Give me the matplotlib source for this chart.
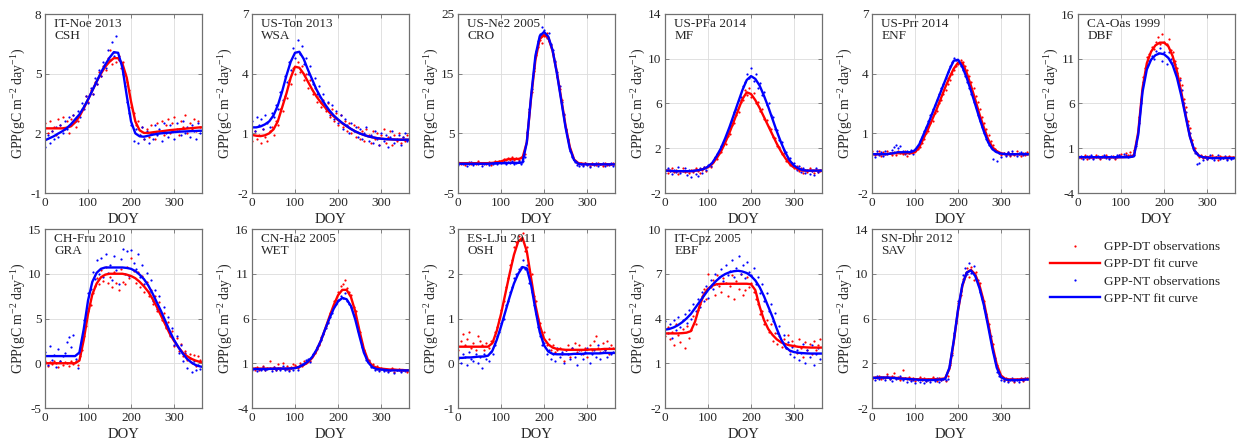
import matplotlib
matplotlib.use("Agg")
import matplotlib.pyplot as plt
from matplotlib.lines import Line2D

plt.rcParams['font.family'] = ['Liberation Serif', 'DejaVu Serif']
plt.rcParams['mathtext.fontset'] = 'custom'
plt.rcParams['mathtext.rm'] = 'Liberation Serif'
plt.rcParams['mathtext.it'] = 'Liberation Serif:italic'
plt.rcParams['axes.unicode_minus'] = False

# ---------------- data ----------------
obs_doy = list(range(1, 366, 5))                 # observation days (73)
fit_doy = list(range(0, 361, 10)) + [365]        # fit-curve days (38)

sites = ["IT-Noe 2013", "US-Ton 2013", "US-Ne2 2005", "US-PFa 2014", "US-Prr 2014", "CA-Oas 1999",
         "CH-Fru 2010", "CN-Ha2 2005", "ES-LJu 2011", "IT-Cpz 2005", "SN-Dhr 2012"]
pfts = ["CSH", "WSA", "CRO", "MF", "ENF", "DBF", "GRA", "WET", "OSH", "EBF", "SAV"]
ylims = [(-1, 8), (-2, 7), (-5, 25), (-2, 14), (-2, 7), (-4, 16),
         (-5, 15), (-4, 16), (-1, 3), (-2, 10), (-2, 14)]
yticks = [[-1, 2, 5, 8], [-2, 1, 4, 7], [-5, 5, 15, 25], [-2, 2, 6, 10, 14], [-2, 1, 4, 7],
          [-4, 1, 6, 11, 16], [-5, 0, 5, 10, 15], [-4, 1, 6, 11, 16], [-1, 0, 1, 2, 3],
          [-2, 1, 4, 7, 10], [-2, 2, 6, 10, 14]]
xticks = [0, 100, 200, 300]
legend_labels = ["GPP-DT observations", "GPP-DT fit curve", "GPP-NT observations", "GPP-NT fit curve"]

# IT-Noe 2013
noe_dt_obs = [2.5, 2.0, 2.6, 2.1, 2.3, 1.9, 2.7, 2.4, 2.8, 2.2, 2.6, 2.0, 2.7, 2.9, 2.3, 2.6, 3.0, 3.2, 3.4, 3.9,
              3.6, 4.2, 4.0, 4.6, 4.5, 5.1, 4.9, 5.4, 5.2, 5.8, 6.2, 5.5, 6.1, 5.6, 5.9, 5.3, 5.6, 5.0, 4.6, 4.2,
              3.3, 3.0, 2.4, 2.6, 1.9, 2.3, 1.7, 2.2, 1.8, 2.4, 2.0, 1.7, 2.5, 2.1, 2.6, 1.9, 2.4, 2.7, 2.0, 2.5,
              2.8, 2.2, 1.9, 2.6, 2.3, 2.9, 2.0, 2.5, 2.2, 2.7, 2.1, 2.6, 2.3]
noe_nt_obs = [1.3, 1.9, 1.5, 2.1, 1.7, 2.3, 1.8, 2.4, 2.0, 2.6, 2.2, 2.8, 2.4, 2.9, 2.6, 3.1, 2.8, 3.5, 3.2, 3.9,
              3.5, 4.3, 4.0, 4.8, 4.5, 5.2, 4.9, 5.6, 5.3, 6.2, 5.7, 6.6, 5.9, 6.9, 5.7, 5.6, 5.0, 4.4, 3.6, 3.0,
              2.4, 1.6, 2.2, 1.5, 1.9, 2.3, 1.7, 2.1, 1.5, 2.0, 1.7, 2.4, 1.9, 2.2, 1.6, 2.5, 2.0, 1.8, 2.4, 2.1,
              1.7, 2.5, 2.2, 1.9, 2.6, 2.0, 2.3, 1.8, 2.4, 2.1, 1.7, 2.5, 2.0]
noe_dt_fit = [2.25, 2.25, 2.25, 2.25, 2.25, 2.28, 2.35, 2.55, 2.85, 3.25, 3.7, 4.15, 4.6, 5.0, 5.35, 5.6, 5.78, 5.78,
              5.5, 4.8, 3.6, 2.6, 2.15, 2.02, 2.02, 2.05, 2.08, 2.1, 2.13, 2.16, 2.18, 2.2, 2.22, 2.24, 2.26, 2.28,
              2.3, 2.3]
noe_nt_fit = [1.65, 1.75, 1.85, 1.98, 2.1, 2.25, 2.45, 2.7, 2.95, 3.3, 3.7, 4.15, 4.6, 5.05, 5.45, 5.8, 6.08, 6.05,
              5.3, 3.9, 2.6, 2.0, 1.85, 1.83, 1.88, 1.93, 1.97, 2.0, 2.02, 2.04, 2.06, 2.08, 2.09, 2.1, 2.11, 2.12,
              2.13, 2.13]

# US-Ton 2013
ton_dt_obs = [0.6, 1.1, 0.7, 0.9, 0.5, 1.2, 0.8, 0.6, 1.1, 1.3, 0.9, 1.6, 1.4, 2.2, 2.1, 2.9, 2.8, 3.7, 3.5, 4.3,
              4.0, 4.6, 4.1, 4.4, 3.7, 4.0, 3.3, 3.7, 3.0, 3.3, 2.6, 2.9, 2.3, 2.7, 2.1, 2.5, 1.8, 2.2, 1.6, 2.0,
              1.4, 1.9, 1.3, 1.6, 1.1, 1.5, 1.0, 1.4, 0.8, 1.3, 0.7, 1.1, 0.6, 1.2, 0.9, 0.5, 1.1, 0.7, 1.0, 0.4,
              0.9, 1.2, 0.5, 0.8, 1.1, 0.4, 0.9, 0.6, 1.0, 0.5, 0.8, 0.6, 0.9]
ton_nt_obs = [1.6, 1.1, 1.8, 1.4, 1.7, 1.2, 1.9, 1.5, 1.3, 2.0, 1.8, 2.4, 2.2, 3.1, 2.7, 3.9, 3.6, 4.6, 4.2, 5.3,
              4.8, 5.7, 5.0, 5.4, 4.5, 4.8, 4.0, 4.4, 3.5, 3.8, 3.0, 3.4, 2.6, 3.0, 2.2, 2.6, 1.9, 2.4, 1.7, 2.1,
              1.5, 1.9, 1.2, 1.7, 1.4, 1.0, 1.5, 1.1, 1.3, 0.8, 1.2, 0.7, 1.0, 1.3, 0.6, 0.9, 0.5, 1.1, 0.7, 0.4,
              1.0, 0.6, 0.9, 0.3, 0.8, 1.1, 0.5, 0.7, 0.9, 0.4, 0.8, 1.0, 0.6]
ton_dt_fit = [0.92, 0.88, 0.86, 0.9, 1.0, 1.2, 1.6, 2.3, 3.0, 3.8, 4.35, 4.3, 4.0, 3.6, 3.2, 2.85, 2.55, 2.3, 2.05,
              1.85, 1.67, 1.5, 1.36, 1.22, 1.1, 1.0, 0.92, 0.85, 0.8, 0.76, 0.73, 0.71, 0.7, 0.69, 0.68, 0.68, 0.68,
              0.68]
ton_nt_fit = [1.3, 1.3, 1.35, 1.45, 1.6, 1.9, 2.4, 3.1, 3.9, 4.6, 5.05, 5.1, 4.75, 4.2, 3.7, 3.2, 2.8, 2.45, 2.15,
              1.9, 1.7, 1.52, 1.37, 1.22, 1.1, 1.0, 0.92, 0.85, 0.8, 0.76, 0.73, 0.71, 0.7, 0.69, 0.68, 0.68, 0.68,
              0.68]

# US-Ne2 2005
ne2_dt_obs = [0.2, -0.1, 0.1, -0.3, 0.0, 0.2, -0.2, 0.1, -0.1, 0.3, 0.0, -0.2, 0.1, -0.1, 0.2, -0.3,
              0.1, 0.3, 0.0, 0.4, 0.2, 0.7, 0.5, 0.9, 0.6, 1.0, 0.5, 0.8, 0.6, 1.0,
              1.2, 1.5, 5.0, 8.5, 12.0, 15.5, 18.2, 19.5, 20.6, 20.2, 21.3, 21.8, 20.5, 19.8, 18.3, 17.0, 14.5,
              12.5, 10.6, 8.0, 5.5, 4.0, 2.3, 1.2, 0.4, 0.1, -0.2,
              0.0, -0.3, 0.1, -0.2, -0.4, 0.0, -0.1, -0.3, 0.1, -0.2, -0.4, 0.0, -0.3, -0.1, -0.2, 0.0]
ne2_nt_obs = [-0.3, 0.1, -0.2, 0.0, -0.4, -0.1, 0.2, -0.3, 0.0, -0.2, 0.1, -0.4, -0.1, 0.1, -0.3, 0.0,
              -0.2, 0.1, -0.1, 0.2, 0.0, 0.3, -0.1, 0.2, 0.0, 0.4, -0.2, 0.1, 0.3, -0.1,
              0.3, 1.0, 5.2, 9.0, 12.5, 16.0, 18.8, 20.5, 21.6, 22.8, 22.3, 21.0, 21.8, 20.0, 19.0, 17.2, 15.3,
              13.0, 10.2, 8.3, 5.8, 3.8, 2.0, 1.0, 0.2, -0.3, -0.5,
              -0.1, -0.4, 0.0, -0.3, -0.6, -0.1, -0.3, 0.1, -0.4, -0.2, 0.0, -0.5, -0.2, -0.3, 0.0, -0.4]
ne2_dt_fit = [0, 0, 0, 0, 0, 0, 0, 0, 0.05, 0.15, 0.3, 0.55, 0.7, 0.7, 0.7, 0.9, 3.5, 11.0, 17.3, 20.8,
              21.5, 21.0, 18.8, 15.2, 10.8, 6.3, 2.7, 0.6, 0.0, -0.1, -0.15, -0.2, -0.2, -0.2, -0.2, -0.2, -0.2,
              -0.2]
ne2_nt_fit = [-0.1, -0.1, -0.1, -0.1, -0.1, -0.1, -0.1, -0.1, -0.05, 0.0, 0.0, 0.0, 0.05, 0.05, 0.05, 0.1, 3.5,
              11.3, 18.0, 21.3, 22.0, 21.2, 18.9, 15.0, 10.5, 6.0, 2.4, 0.5, -0.1, -0.2, -0.2, -0.2, -0.2, -0.2,
              -0.2, -0.2, -0.2, -0.2]

# US-PFa 2014
pfa_dt_obs = [0.1, -0.2, 0.0, 0.2, -0.1, 0.1, -0.3, 0.0, 0.2, -0.1, 0.0, -0.2, 0.1, -0.1, 0.2, 0.0, -0.2, 0.1,
              0.3, 0.0,
              0.4, 0.3, 0.8, 1.2, 1.0, 1.6, 1.7, 2.3, 2.4, 3.1, 3.3, 4.1, 4.3, 5.0, 5.2, 6.1, 6.3, 7.2, 6.8, 7.4,
              6.6, 6.9, 6.0, 6.1, 5.3, 5.5, 4.6, 4.5, 3.9, 3.7, 3.0, 2.9, 2.2, 2.1, 1.5, 1.6, 0.9, 1.1, 0.5, 0.7,
              0.2, 0.4, 0.0, 0.2, -0.2,
              0.1, -0.1, 0.2, 0.0, -0.2, 0.1, -0.1, 0.0]
pfa_nt_obs = [-0.2, 0.2, 0.0, -0.3, 0.1, -0.1, 0.3, -0.2, 0.0, 0.2, -0.4, 0.1, -0.6, 0.0, -0.3, -0.5, 0.2, -0.2,
              0.3, 0.1,
              0.5, 0.4, 0.9, 1.1, 1.5, 1.7, 2.2, 2.5, 3.1, 3.4, 4.0, 4.5, 5.2, 5.5, 6.3, 6.6, 7.6, 7.9, 8.6, 8.3,
              9.2, 8.0, 8.6, 7.4, 7.8, 6.8, 7.0, 5.9, 6.0, 5.0,
              4.8, 3.7, 3.6, 2.7, 2.6, 1.8, 1.7, 1.0, 1.1, 0.4, 0.7, 0.1, 0.4, -0.1, 0.2,
              -0.2, 0.1, -0.3, 0.0, -0.4, 0.2, -0.1, 0.1]
pfa_dt_fit = [0.0, 0.0, -0.05, -0.05, -0.05, -0.05, -0.05, 0.0, 0.05, 0.15, 0.3, 0.6, 1.1, 1.7, 2.5, 3.4, 4.4, 5.4,
              6.4, 7.0, 6.85, 6.3, 5.6, 4.8, 4.0, 3.2, 2.4, 1.7, 1.1, 0.6, 0.3, 0.1, 0.0, 0.0, 0.0, 0.0, 0.0, 0.0]
pfa_nt_fit = [0.0, 0.0, -0.05, -0.05, -0.05, -0.05, -0.05, 0.0, 0.05, 0.15, 0.35, 0.7, 1.3, 2.0, 2.9, 3.9, 5.0, 6.1,
              7.2, 8.1, 8.45, 8.2, 7.6, 6.7, 5.7, 4.6, 3.5, 2.5, 1.6, 0.9, 0.45, 0.2, 0.05, 0.0, 0.0, 0.0, 0.0, 0.0]

# US-Prr 2014
prr_dt_obs = [0.1, -0.1, 0.0, 0.1, -0.15, 0.05, -0.05, 0.1, 0.0, -0.1, 0.05, -0.1, 0.1, 0.0, -0.05, 0.1, -0.15,
              0.0, 0.1, 0.05,
              0.1, 0.2, 0.3, 0.5, 0.7, 1.0, 1.1, 1.5, 1.6, 2.0, 2.1, 2.5, 2.7, 3.0, 3.2, 3.5, 3.7, 4.0, 4.2, 4.4,
              4.5, 4.7, 4.6, 4.4, 4.2, 3.9, 3.6, 3.3, 2.9, 2.6, 2.2, 1.8, 1.5, 1.2, 0.9, 0.6, 0.4, 0.2, 0.1, 0.0,
              -0.1,
              0.0, -0.1, 0.05, -0.15, 0.0, -0.1, 0.1, -0.05, -0.15, 0.0, -0.1, 0.05]
prr_nt_obs = [0.0, -0.2, 0.1, -0.1, 0.05, -0.15, 0.1, -0.05, 0.0, 0.15, 0.3, 0.4, 0.25, 0.35, 0.1, -0.05, 0.1,
              0.0, 0.15, -0.05,
              0.2, 0.3, 0.6, 0.8, 1.1, 1.3, 1.6, 1.9, 2.2, 2.4, 2.7, 3.0, 3.3, 3.5, 3.8, 4.1, 4.4, 4.6, 4.8, 4.7,
              4.7, 4.4, 4.2, 3.9, 3.6, 3.3, 3.0, 2.6, 2.3, 1.9, 1.6, 1.3, 1.0, 0.7, 0.4, 0.3, -0.3, 0.1, -0.4, 0.0,
              -0.2,
              0.0, -0.15, 0.05, -0.1, 0.1, -0.05, -0.15, 0.0, 0.05, -0.1, 0.0, -0.05]
prr_dt_fit = [-0.05, -0.05, -0.05, -0.05, -0.03, 0.0, 0.0, 0.0, 0.0, 0.0, 0.05, 0.3, 0.75, 1.2, 1.7, 2.2, 2.75,
              3.3, 3.8, 4.25, 4.55, 4.55, 4.05, 3.4, 2.7, 1.95, 1.3, 0.7, 0.3, 0.1, 0.0, -0.05, -0.05, -0.05,
              -0.05, -0.05, -0.05, -0.05]
prr_nt_fit = [-0.05, -0.05, -0.05, -0.05, -0.03, 0.0, 0.05, 0.05, 0.05, 0.05, 0.15, 0.45, 0.95, 1.45, 2.0, 2.55,
              3.1, 3.65, 4.2, 4.65, 4.7, 4.35, 3.8, 3.15, 2.45, 1.75, 1.1, 0.55, 0.2, 0.05, -0.02, -0.05, -0.05,
              -0.05, -0.05, -0.05, -0.05, -0.05]

# CA-Oas 1999
oas_dt_obs = [0.1, -0.1, 0.0, 0.2, -0.2, 0.1, 0.0, -0.1, 0.2, 0.0, -0.2, 0.1, 0.0, 0.2, -0.1, 0.0, 0.1, -0.2,
              0.0, 0.2, 0.4, 0.1, 0.5, 0.3, 0.6, 0.2,
              0.8, 1.5, 4.5, 6.5, 9.0, 10.0, 11.2, 11.5, 12.3, 12.1, 12.9, 13.4, 12.6, 13.8, 12.9, 12.6, 13.2,
              12.0, 11.8, 10.7, 10.0, 8.9, 8.1, 6.5, 5.6, 4.0, 3.3, 1.9, 1.0, 0.5,
              0.0, 0.3, -0.1, 0.1, -0.2, 0.0, 0.2, -0.1, 0.0, -0.3, 0.1, -0.1, 0.0, -0.2, 0.1, -0.1, 0.0]
oas_nt_obs = [-0.1, 0.1, -0.2, 0.0, 0.1, -0.1, 0.2, -0.2, 0.0, 0.1, -0.1, 0.0, 0.2, -0.1, -0.2, 0.1, 0.0, -0.1,
              0.2, 0.3, 0.1, 0.4, 0.2, 0.0, 0.3, 0.1,
              0.3, 1.2, 3.8, 6.0, 8.4, 9.5, 10.3, 10.8, 11.3, 11.0, 11.9, 11.6, 12.2, 10.8, 11.7, 10.4, 11.8,
              11.0, 10.6, 10.4, 9.4, 8.6, 7.5, 6.0, 5.1, 3.6, 2.7, 1.5, 0.5, -0.8,
              -0.6, 0.1, -0.3, 0.0, -0.2, 0.2, -0.1, -0.3, 0.0, 0.3, -0.2, -0.1, 0.1, -0.3, 0.0, -0.2, -0.1]
oas_dt_fit = [0.0, 0.0, 0.0, 0.0, 0.0, 0.0, 0.0, 0.0, 0.0, 0.0, 0.0, 0.02, 0.05, 0.15, 2.8, 7.7, 10.5, 11.8, 12.5,
              12.8, 12.8, 12.4, 11.3, 9.6, 7.3, 4.8, 2.4, 0.8, 0.2, 0.0, 0.0, -0.05, -0.05, -0.05, -0.05, -0.05,
              -0.05, -0.05]
oas_nt_fit = [0.0, 0.0, 0.0, 0.0, 0.0, 0.0, 0.0, 0.0, 0.0, 0.0, 0.0, 0.0, 0.0, 0.1, 2.5, 7.3, 9.8, 10.9, 11.4,
              11.6, 11.5, 11.1, 10.3, 8.9, 6.9, 4.6, 2.3, 0.8, 0.2, 0.0, -0.05, -0.1, -0.1, -0.1, -0.1, -0.1,
              -0.1, -0.1]

# CH-Fru 2010
fru_dt_obs = [0.2, -0.3, 0.1, -0.1, 0.3, 0.0, -0.4, 0.2, -0.2, 0.1, 0.0, -0.3, 0.3, -0.1, 0.2, -0.2,
              0.8, 1.5, 3.0, 4.2, 5.8, 6.5, 7.9, 8.6, 9.5, 8.8, 10.4, 9.2, 10.8, 9.0, 9.6, 8.5, 10.2, 9.0, 8.2,
              10.5, 9.1, 8.8, 10.8, 9.5, 11.8, 10.3, 9.0, 10.2, 8.5, 9.7, 8.0, 9.1, 7.5, 8.2, 6.6, 7.5, 5.8, 6.8,
              4.8, 5.6, 3.9, 4.6, 3.1, 3.6, 1.9, 2.8, 1.4, 2.2, 0.8, 1.4, 0.4, 1.0, 0.0, 0.9, -0.3, 0.8, 0.4]
fru_nt_obs = [1.3, -0.2, 1.9, 0.4, 0.9, -0.4, 1.6, 0.2, 0.8, 1.2, 2.4, 2.9, 1.8, 3.2, 0.5, -0.5,
              1.0, 2.5, 4.8, 5.6, 7.8, 8.3, 10.2, 9.4, 11.5, 10.0, 11.8, 9.6, 12.2, 10.1, 11.0, 9.3, 12.0, 10.4,
              8.9, 11.6, 12.8, 10.0, 12.5, 9.8, 12.7, 11.2, 10.5, 12.2, 9.6, 11.0, 8.8, 10.1, 8.0, 9.3, 7.0, 8.2,
              6.1, 7.5, 5.2, 6.3, 4.0, 5.2, 3.2, 3.9, 2.0, 3.1, 1.2, 2.0, 0.3, 1.2, -0.5, 0.6, -1.0, 0.2, -0.8,
              -0.2, -0.6]
fru_dt_fit = [0, 0, 0, 0, 0, 0, 0, 0, 0.3, 2.6, 5.5, 7.7, 8.9, 9.6, 9.9, 10.0, 10.0, 10.0, 10.0, 9.9, 9.75, 9.5,
              9.1, 8.6, 8.0, 7.2, 6.3, 5.3, 4.3, 3.3, 2.5, 1.8, 1.2, 0.8, 0.5, 0.3, 0.15, 0.1]
fru_nt_fit = [0.8, 0.8, 0.8, 0.8, 0.8, 0.8, 0.8, 0.8, 1.2, 3.8, 7.0, 9.1, 10.1, 10.55, 10.7, 10.7, 10.7, 10.7,
              10.7, 10.65, 10.55, 10.3, 9.9, 9.4, 8.7, 7.8, 6.8, 5.8, 4.7, 3.6, 2.6, 1.8, 1.1, 0.5, 0.1, -0.2,
              -0.35, -0.4]

# CN-Ha2 2005
ha2_dt_obs = [0.5, 0.2, 0.6, 0.3, 0.4, 0.7, 0.2, 0.5, 1.3, 0.4, 0.6, 0.3, 0.9, 0.5, 1.0, 0.4, 0.7, 0.3, 0.6, 0.9,
              0.8, 0.5, 1.0, 0.7, 1.2, 1.0, 1.4, 1.3, 1.9, 2.2, 2.8, 3.0, 3.9, 4.3, 5.2, 5.6, 6.6, 6.9, 8.0, 8.1,
              9.0, 9.6, 9.9, 10.3, 9.4, 9.0, 8.6, 7.3, 6.8, 5.0, 4.5, 3.1, 2.5, 1.6, 1.4, 0.8, 0.9, 0.5, 0.7, 0.3,
              0.5, 0.2, 0.4, 0.1, 0.3, 0.5, 0.0, 0.3, 0.4, 0.1, 0.3, 0.2, 0.0]
ha2_nt_obs = [0.2, 0.5, 0.1, 0.4, 0.3, 0.6, 0.2, 0.4, 0.5, 0.1, 0.6, 0.3, 0.5, 0.2, 0.7, 0.3, 0.4, 0.1, 0.5, 0.3,
              0.6, 0.3, 0.8, 0.9, 1.0, 1.4, 1.5, 1.1, 2.0, 2.3, 2.6, 3.2, 3.6, 4.3, 4.9, 5.5, 6.2, 6.6, 7.4, 7.6,
              8.1, 8.5, 8.3, 8.8, 7.9, 7.6, 7.3, 6.4, 5.8, 4.6, 3.9, 2.8, 2.3, 1.4, 1.2, 0.6, 0.7, 0.3, 0.4, 0.1,
              0.4, 0.1, 0.3, 0.0, 0.2, 0.4, -0.1, 0.2, 0.3, 0.0, 0.2, 0.1, 0.3]
ha2_dt_fit = [0.4, 0.4, 0.4, 0.4, 0.4, 0.4, 0.4, 0.4, 0.4, 0.42, 0.5, 0.6, 0.8, 1.1, 1.6, 2.4, 3.5, 4.8, 6.2, 7.5,
              8.6, 9.2, 9.2, 8.4, 6.8, 4.6, 2.6, 1.3, 0.7, 0.5, 0.4, 0.35, 0.3, 0.3, 0.25, 0.25, 0.2, 0.2]
ha2_nt_fit = [0.35, 0.35, 0.35, 0.35, 0.37, 0.38, 0.4, 0.4, 0.4, 0.42, 0.45, 0.6, 0.85, 1.2, 1.7, 2.5, 3.5, 4.8,
              6.0, 7.1, 7.9, 8.3, 8.15, 7.4, 5.9, 4.0, 2.2, 1.1, 0.55, 0.35, 0.3, 0.25, 0.2, 0.2, 0.2, 0.2, 0.2,
              0.2]

# ES-LJu 2011
lju_dt_obs = [0.3, 0.5, 0.65, 0.4, 0.55, 0.7, 0.35, 0.45, 0.3, 0.6, 0.5, 0.4, 0.3, 0.45, 0.35, 0.5,
              0.5, 0.7, 0.8, 1.0, 1.2, 1.4, 1.7, 1.9, 2.2, 2.3, 2.6, 2.7, 2.85, 2.75, 2.9, 2.5, 2.6, 2.1, 2.0, 1.5,
              1.4, 1.0, 0.9, 0.6, 0.7, 0.4, 0.55, 0.3,
              0.4, 0.25, 0.3, 0.35, 0.2, 0.05, 0.3, 0.4, 0.15, 0.35, 0.45, 0.25, 0.4, 0.3, 0.2, 0.35, 0.15, 0.4,
              0.3, 0.5, 0.6, 0.35, 0.25, 0.45, 0.3, 0.5, 0.2, 0.4, 0.35]
lju_nt_obs = [0.1, 0.0, 0.2, 0.15, -0.05, 0.25, 0.1, 0.05, 0.2, 0.0, 0.15, -0.1, 0.2, 0.1, 0.05, 0.25,
              0.2, 0.4, 0.6, 0.7, 0.9, 1.0, 1.3, 1.4, 1.6, 1.7, 1.9, 2.0, 2.1, 2.15, 2.3, 2.1, 2.2, 1.8, 1.6, 1.3,
              1.1, 0.8, 0.6, 0.4, 0.45, 0.2, 0.3, 0.1,
              0.2, 0.05, 0.35, 0.15, 0.25, 0.0, 0.3, 0.2, 0.1, 0.35, 0.15, -0.05, 0.3, 0.2, 0.1, 0.25, 0.35, 0.0,
              0.2, 0.3, 0.15, 0.4, 0.1, 0.25, 0.3, 0.15, 0.35, 0.2, 0.25]
lju_dt_fit = [0.37, 0.37, 0.37, 0.37, 0.37, 0.37, 0.37, 0.37, 0.45, 0.72, 1.1, 1.55, 2.0, 2.42, 2.72, 2.8, 2.5,
              1.9, 1.3, 0.85, 0.55, 0.42, 0.35, 0.32, 0.31, 0.3, 0.3, 0.3, 0.3, 0.3, 0.3, 0.31, 0.31, 0.31, 0.32,
              0.32, 0.32, 0.32]
lju_nt_fit = [0.12, 0.12, 0.13, 0.13, 0.14, 0.15, 0.15, 0.17, 0.28, 0.52, 0.82, 1.15, 1.48, 1.78, 2.0, 2.15, 2.12,
              1.75, 1.2, 0.7, 0.4, 0.26, 0.21, 0.2, 0.2, 0.2, 0.2, 0.21, 0.21, 0.21, 0.22, 0.22, 0.22, 0.22, 0.23,
              0.23, 0.23, 0.23]

# IT-Cpz 2005
cpz_dt_obs = [2.8, 3.4, 2.6, 3.1, 2.2, 3.6, 2.9, 2.4, 3.3, 2.0, 3.5, 2.7,
              3.2, 4.2, 3.6, 4.6, 5.0, 5.5, 6.0, 5.3, 7.0, 6.1, 6.6, 5.6, 6.9, 6.2, 5.8, 6.7, 6.4, 5.5, 6.2, 6.9,
              5.3, 6.5, 6.0, 7.0, 5.6, 5.9, 6.8, 6.1, 6.4, 5.8,
              5.3, 5.0, 4.3, 4.5, 3.6, 3.9, 3.1, 3.6, 2.5, 3.0, 2.3, 2.8, 2.1, 2.6, 2.0, 2.9, 1.8, 2.5, 2.2, 1.7,
              2.6, 2.0, 1.4, 2.4, 1.9, 2.3, 1.6, 2.5, 1.9, 2.2, 2.6]
cpz_nt_obs = [3.8, 3.0, 3.6, 2.7, 3.9, 3.2, 4.1, 3.4, 3.9, 4.3, 3.7, 4.6,
              4.0, 5.0, 4.5, 5.3, 4.8, 5.8, 5.2, 6.2, 5.4, 6.6, 6.0, 7.0, 6.3, 6.8, 7.3, 6.5, 7.6, 6.9, 7.2, 7.9,
              6.8, 7.4, 8.2, 7.0, 7.6, 6.7, 7.8, 7.1, 6.9, 7.4,
              6.3, 6.8, 5.7, 6.3, 5.2, 5.7, 4.5, 5.0, 3.8, 4.4, 3.0, 3.5, 2.4, 2.9, 2.0, 2.4, 1.6, 2.1, 1.4, 1.9,
              1.2, 1.7, 2.3, 1.0, 1.9, 1.4, 2.2, 0.9, 1.6, 2.0, 1.3]
cpz_dt_fit = [3.0, 3.0, 3.0, 3.0, 3.02, 3.05, 3.15, 3.8, 4.8, 5.6, 6.0, 6.2, 6.3, 6.32, 6.33, 6.33, 6.33, 6.33,
              6.33, 6.33, 6.3, 5.9, 4.8, 3.9, 3.3, 2.9, 2.6, 2.4, 2.28, 2.2, 2.15, 2.1, 2.08, 2.06, 2.05, 2.05,
              2.05, 2.05]
cpz_nt_fit = [3.25, 3.3, 3.4, 3.55, 3.75, 4.0, 4.3, 4.7, 5.1, 5.5, 5.9, 6.25, 6.55, 6.8, 6.98, 7.1, 7.17, 7.2,
              7.15, 7.05, 6.85, 6.55, 6.1, 5.5, 4.8, 4.1, 3.3, 2.6, 2.1, 1.85, 1.75, 1.7, 1.68, 1.66, 1.65, 1.65,
              1.65, 1.65]

# SN-Dhr 2012
dhr_dt_obs = [0.6, 0.8, 0.7, 0.9, 0.6, 0.8, 0.7, 1.0, 0.6, 0.9, 1.1, 0.7, 0.8, 0.5, 1.4, 0.7, 0.6, 0.8, 0.5, 0.7,
              0.4, 0.6, 0.8, 0.5, 0.7, 0.4, 0.6, 0.5, 0.8, 0.6, 0.4, 0.7, 0.5, 0.6, 0.4,
              0.9, 1.8, 2.9, 4.5, 5.6, 7.4, 8.1, 9.5, 9.8, 10.5, 9.7, 10.6, 9.4, 10.2, 9.1, 9.2, 7.7, 7.6, 6.1,
              5.5, 4.0, 3.7, 2.2, 1.8, 1.0, 0.8,
              0.5, 0.7, 0.4, 0.6, 0.5, 0.3, 0.6, 0.5, 0.7, 0.4, 0.6, 0.7]
dhr_nt_obs = [0.7, 0.5, 0.9, 0.6, 0.8, 0.7, 0.5, 0.9, 0.6, 0.4, 0.8, 0.6, 0.7, 0.9, 0.5, 0.7, 0.3, 0.6, 0.4, 0.5,
              0.2, 0.5, 0.3, 0.6, 0.2, 0.4, 0.5, 0.3, 0.6, 0.4, 0.7, 0.3, 0.5, 0.6, 0.5,
              0.6, 2.0, 2.7, 4.7, 5.8, 7.6, 8.5, 9.9, 10.5, 10.0, 11.0, 10.1, 10.7, 9.5, 9.4, 8.4, 7.9, 6.9, 6.4,
              5.0, 4.4, 3.0, 2.5, 1.2, 0.9, 0.5,
              0.4, 0.6, 0.3, 0.5, 0.7, 0.4, 0.5, 0.3, 0.6, 0.5, 0.7, 0.6]
dhr_dt_fit = [0.7, 0.7, 0.72, 0.72, 0.72, 0.7, 0.68, 0.65, 0.62, 0.6, 0.58, 0.57, 0.56, 0.56, 0.57, 0.58, 0.6,
              0.65, 1.5, 3.9, 6.7, 8.9, 10.1, 10.35, 9.95, 8.95, 7.5, 5.6, 3.6, 1.9, 0.9, 0.6, 0.55, 0.55, 0.55,
              0.58, 0.6, 0.6]
dhr_nt_fit = [0.7, 0.7, 0.72, 0.72, 0.7, 0.68, 0.65, 0.62, 0.6, 0.58, 0.55, 0.52, 0.5, 0.5, 0.5, 0.52, 0.55, 0.6,
              1.6, 4.0, 6.8, 9.0, 10.1, 10.3, 9.8, 8.7, 7.2, 5.3, 3.3, 1.6, 0.75, 0.55, 0.5, 0.5, 0.5, 0.52, 0.55,
              0.55]

dt_obs = [noe_dt_obs, ton_dt_obs, ne2_dt_obs, pfa_dt_obs, prr_dt_obs, oas_dt_obs,
          fru_dt_obs, ha2_dt_obs, lju_dt_obs, cpz_dt_obs, dhr_dt_obs]
nt_obs = [noe_nt_obs, ton_nt_obs, ne2_nt_obs, pfa_nt_obs, prr_nt_obs, oas_nt_obs,
          fru_nt_obs, ha2_nt_obs, lju_nt_obs, cpz_nt_obs, dhr_nt_obs]
dt_fit = [noe_dt_fit, ton_dt_fit, ne2_dt_fit, pfa_dt_fit, prr_dt_fit, oas_dt_fit,
          fru_dt_fit, ha2_dt_fit, lju_dt_fit, cpz_dt_fit, dhr_dt_fit]
nt_fit = [noe_nt_fit, ton_nt_fit, ne2_nt_fit, pfa_nt_fit, prr_nt_fit, oas_nt_fit,
          fru_nt_fit, ha2_nt_fit, lju_nt_fit, cpz_nt_fit, dhr_nt_fit]

# ---------------- layout / style ----------------
W, H = 1237, 444
fig = plt.figure(figsize=(W / 100, H / 100), dpi=100)
lefts_px = [45, 252, 458, 665, 872, 1078]
rows_px = [(14, 193), (229, 408)]
aw_px = 157

frame_col = '#707070'
text_col = '#262626'
RED = '#ff0000'
BLUE = '#0000ff'
MS = 3.2

for i in range(len(sites)):
    r, c = divmod(i, 6)
    top, bot = rows_px[r]
    ax = fig.add_axes([lefts_px[c] / W, 1 - bot / H, aw_px / W, (bot - top) / H])
    ax.plot(obs_doy, dt_obs[i], linestyle='none', marker='.', ms=MS, color=RED, mew=0)
    ax.plot(obs_doy, nt_obs[i], linestyle='none', marker='.', ms=MS, color=BLUE, mew=0)
    ax.plot(fit_doy, dt_fit[i], color=RED, lw=1.7)
    ax.plot(fit_doy, nt_fit[i], color=BLUE, lw=1.7)
    ax.set_xlim(0, 365)
    ax.set_ylim(*ylims[i])
    ax.set_xticks(xticks)
    ax.set_yticks(yticks[i])
    ax.grid(True, color='#dcdcdc', lw=0.6)
    ax.set_axisbelow(True)
    for s in ax.spines.values():
        s.set_color(frame_col)
        s.set_linewidth(0.9)
    ax.tick_params(direction='in', length=3, width=0.6, color=frame_col, labelcolor=text_col,
                   labelsize=9.5, top=True, right=True)
    ax.tick_params(axis='y', pad=2.5)
    ax.tick_params(axis='x', pad=3)
    ax.set_xlabel('DOY', fontsize=10.5, color=text_col, labelpad=2.5)
    ax.set_ylabel('GPP(gC m$^{-2}$ day$^{-1}$)', fontsize=10, color=text_col)
    ax.yaxis.set_label_coords(-0.108, 0.5)
    ax.text(0.06, 0.975, f"{sites[i]}\n{pfts[i]}", transform=ax.transAxes, ha='left', va='top',
            fontsize=9.5, color=text_col, linespacing=0.95)

handles = [Line2D([], [], linestyle='none', marker='.', ms=MS, color=RED, mew=0),
           Line2D([], [], color=RED, lw=1.7),
           Line2D([], [], linestyle='none', marker='.', ms=MS, color=BLUE, mew=0),
           Line2D([], [], color=BLUE, lw=1.7)]
fig.legend(handles, legend_labels, loc='upper left', bbox_to_anchor=(1050 / W, 1 - 241 / H),
           frameon=False, fontsize=9.5, handlelength=3.8, handletextpad=0.3, labelspacing=0.38,
           borderpad=0, borderaxespad=0, labelcolor=text_col)

fig.savefig('out.png', dpi=100)
